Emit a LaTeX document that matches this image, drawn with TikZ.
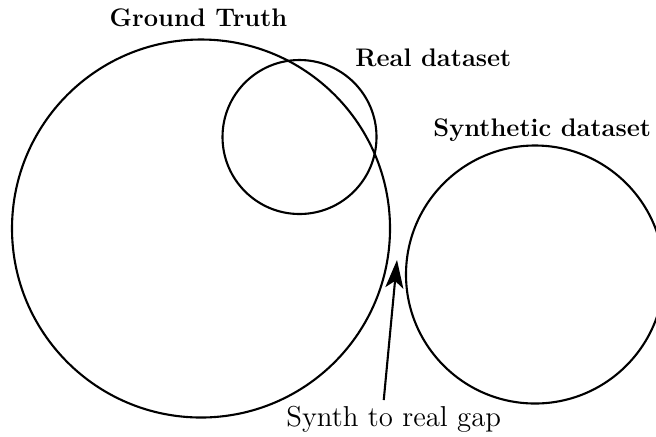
\documentclass[tikz,border=0pt]{standalone}
\usetikzlibrary{arrows.meta}
\tikzset{
  setcircle/.style={draw, circle, inner sep=0pt, line width=1.05pt},
  setlabel/.style={inner sep=0pt, font=\fontsize{12.7}{15}\selectfont\bfseries},
  gaplabel/.style={inner sep=0pt, font=\fontsize{14.4}{17}\selectfont},
  gaparrow/.style={line width=1.05pt, -{Stealth[length=14pt,width=9pt,inset=3.5pt]}}
}
\begin{document}
\begin{tikzpicture}[x=0.5pt,y=-0.5pt]
\useasboundingbox (0,0) rectangle (656,436);
\clip (0,0) rectangle (656,436);
\node[setcircle, minimum size=189pt] (gt) at (201,228.5) {};
\node[setcircle, minimum size=77pt] (real) at (299.5,137) {};
\node[setcircle, minimum size=129pt] (synth) at (535,274.5) {};
\node[setlabel, anchor=base] (gtl) at (198.5,26.7) {Ground Truth};
\node[setlabel, anchor=base west] (reall) at (355,66.7) {Real dataset};
\node[setlabel, anchor=base west] (synthl) at (433,136.7) {Synthetic dataset};
\node[gaplabel, anchor=base west] (gap) at (286,426.7) {Synth to real gap};
\coordinate (tip) at (397,260);
\draw[gaparrow] ([xshift=-5pt,yshift=3pt]gap.north) -- (tip);
\end{tikzpicture}
\end{document}
